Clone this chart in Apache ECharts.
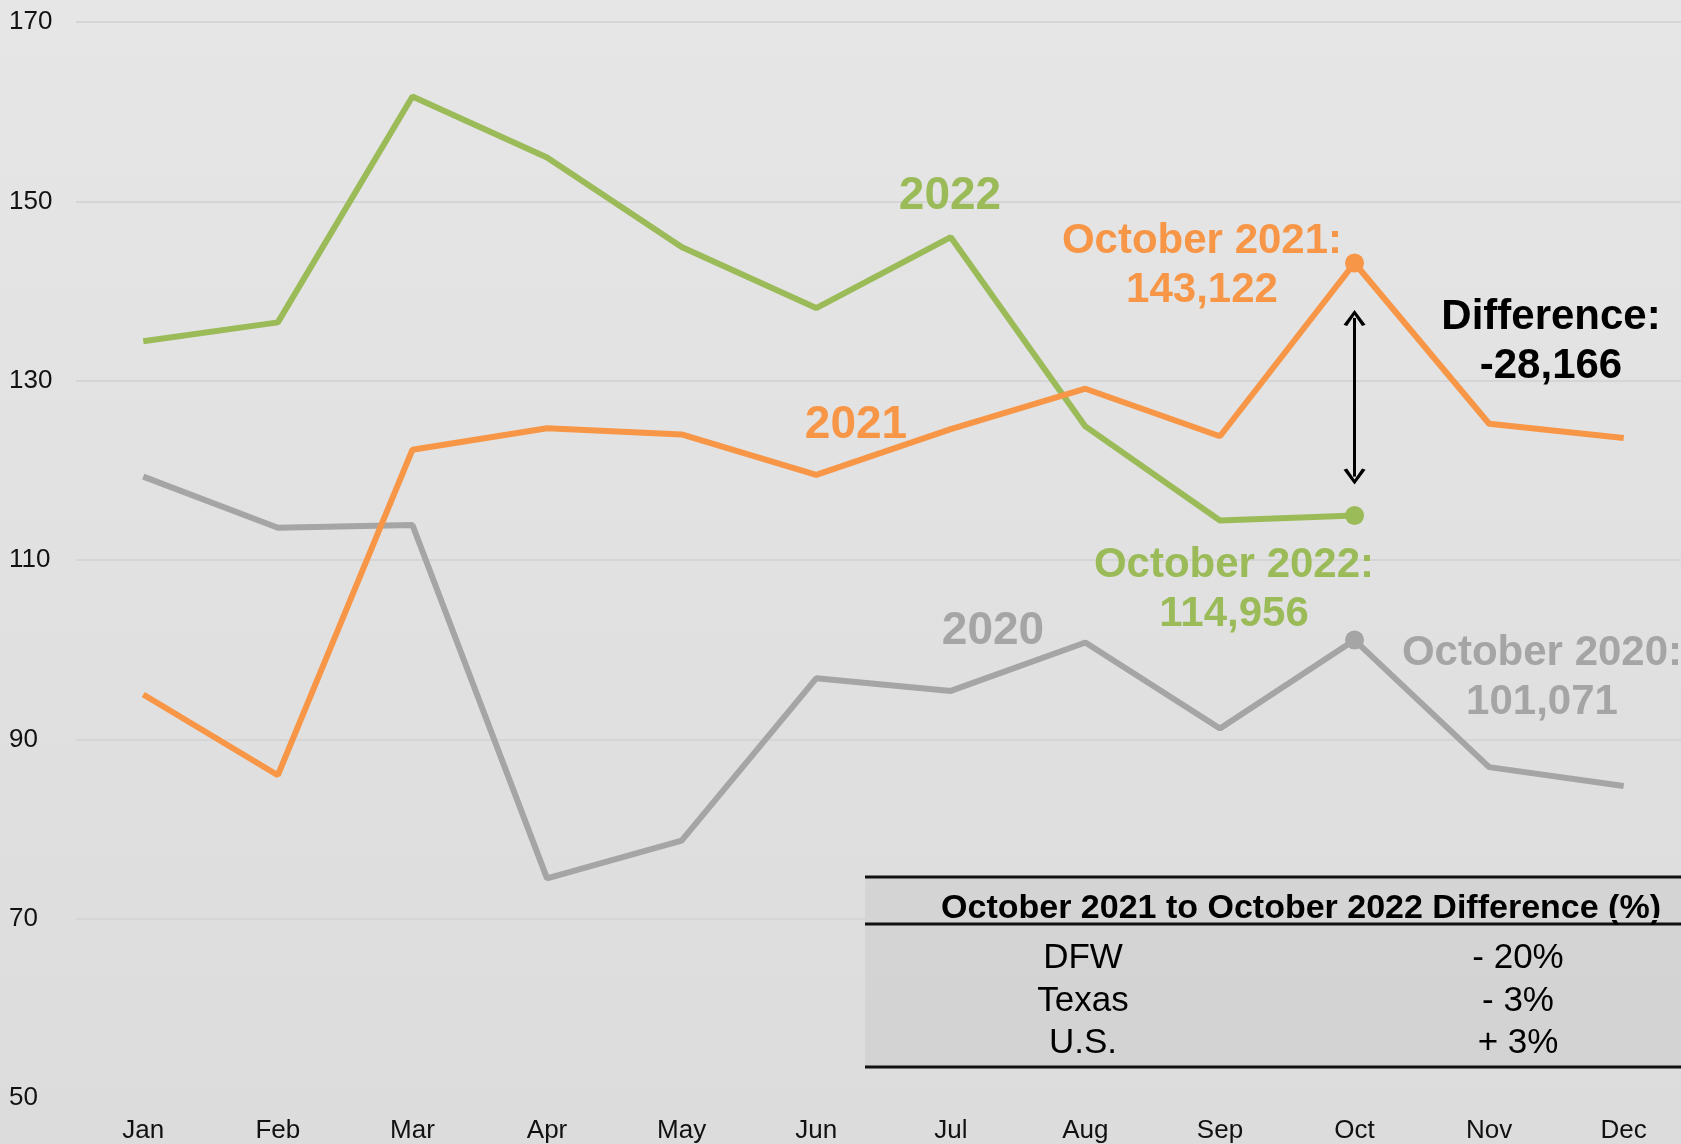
<!DOCTYPE html>
<html>
<head>
<meta charset="utf-8">
<script src="https://cdn.jsdelivr.net/npm/echarts@6/dist/echarts.min.js"></script>
<style>
  html, body { margin: 0; padding: 0; overflow: hidden; }
  #main { width: 1691px; height: 1144px; }
</style>
</head>
<body>
<div id="main"></div>
<script>
// months and yearly values (thousands)
const months = ["Jan", "Feb", "Mar", "Apr", "May", "Jun", "Jul", "Aug", "Sep", "Oct", "Nov", "Dec"];
const y2020 = [119.3, 113.6, 113.9, 74.5, 78.7, 96.8, 95.4, 100.8, 91.2, 101.071, 86.9, 84.8];
const y2021 = [95.0, 86.0, 122.3, 124.7, 124.0, 119.5, 124.6, 129.1, 123.8, 143.122, 125.2, 123.6];
const y2022 = [134.4, 136.5, 161.7, 154.9, 144.9, 138.1, 146.0, 124.9, 114.4, 114.956];
const yTicks = [50, 70, 90, 110, 130, 150, 170];

// difference table
const tableTitle = "October 2021 to October 2022 Difference (%)";
const tableRegions = ["DFW", "Texas", "U.S."];
const tableChanges = ["- 20%", "- 3%", "+ 3%"];

const GREEN = "#9BBB59";
const ORANGE = "#F79646";
const GRAY = "#A5A5A5";
const FONT = "'Liberation Sans', Arial, sans-serif";

// only October gets a dot
function octDot(v, p) {
  return p.dataIndex === 9 ? 19 : 0;
}

// open chevron arrow head
const chevron = "path://M0,10 L5,0 L10,10 L8.4,10.8 L5,3.4 L1.6,10.8 Z";

let tableGraphics = [
  { type: "rect", shape: { x: 865, y: 876, width: 830, height: 192 }, style: { fill: "rgba(0,0,0,0.045)" }, silent: true },
  { type: "line", shape: { x1: 865, y1: 877, x2: 1690, y2: 877 }, style: { stroke: "#111", lineWidth: 3 } },
  { type: "line", shape: { x1: 865, y1: 924, x2: 1690, y2: 924 }, style: { stroke: "#111", lineWidth: 3 } },
  { type: "line", shape: { x1: 865, y1: 1067, x2: 1690, y2: 1067 }, style: { stroke: "#111", lineWidth: 3 } },
  {
    type: "text", x: 1301, y: 909,
    style: { text: tableTitle, font: "bold 34px " + FONT, fill: "#000", textAlign: "center", textVerticalAlign: "middle" }
  }
];
const rowY = [958, 1001, 1043];
tableRegions.forEach((r, i) => {
  tableGraphics.push({
    type: "text", x: 1083, y: rowY[i],
    style: { text: r, font: "35px " + FONT, fill: "#000", textAlign: "center", textVerticalAlign: "middle" }
  });
  tableGraphics.push({
    type: "text", x: 1518, y: rowY[i],
    style: { text: tableChanges[i], font: "35px " + FONT, fill: "#000", textAlign: "center", textVerticalAlign: "middle" }
  });
});

function label(x, y, text, color, size) {
  return {
    type: "text", x: x, y: y, z: 10,
    style: {
      text: text, font: "bold " + size + "px " + FONT, fill: color,
      textAlign: "center", textVerticalAlign: "middle", lineHeight: 49
    }
  };
}

let annotations = [
  label(950, 196, "2022", GREEN, 46),
  label(856, 425, "2021", ORANGE, 46),
  label(993, 631, "2020", GRAY, 46),
  label(1202, 266, "October 2021:\n143,122", ORANGE, 42),
  label(1234, 590, "October 2022:\n114,956", GREEN, 42),
  label(1542, 678, "October 2020:\n101,071", GRAY, 42),
  label(1551, 342, "Difference:\n-28,166", "#000", 42)
];

let myChart = echarts.init(document.getElementById("main"));
myChart.setOption({
  animation: false,
  backgroundColor: {
    type: "linear", x: 0, y: 0, x2: 0, y2: 1,
    colorStops: [
      { offset: 0, color: "#e7e6e6" },
      { offset: 1, color: "#dcdcdc" }
    ]
  },
  grid: { left: 76, right: 0, top: 22, bottom: 45 },
  xAxis: {
    type: "category",
    data: months,
    axisLine: { show: false },
    axisTick: { show: false },
    axisLabel: { color: "#111", fontSize: 26, fontFamily: FONT, margin: 20 }
  },
  yAxis: {
    type: "value",
    min: 50,
    max: 170,
    interval: 20,
    axisLine: { show: false },
    axisTick: { show: false },
    axisLabel: {
      color: "#111", fontSize: 26, fontFamily: FONT, align: "left", margin: 67,
      formatter: v => (yTicks.indexOf(v) >= 0 ? String(v) : "")
    },
    splitLine: { showMinLine: false, lineStyle: { color: "#d5d5d5", width: 2 } }
  },
  series: [
    {
      name: "2020", type: "line", data: y2020, symbol: "circle", symbolSize: octDot,
      lineStyle: { color: GRAY, width: 6 }, itemStyle: { color: GRAY }, z: 2
    },
    {
      name: "2022", type: "line", data: y2022, symbol: "circle", symbolSize: octDot,
      lineStyle: { color: GREEN, width: 6 }, itemStyle: { color: GREEN }, z: 3
    },
    {
      name: "2021", type: "line", data: y2021, symbol: "circle", symbolSize: octDot,
      lineStyle: { color: ORANGE, width: 6 }, itemStyle: { color: ORANGE }, z: 4,
      markLine: {
        silent: true,
        symbol: [chevron, chevron],
        symbolSize: [22, 16],
        label: { show: false },
        lineStyle: { color: "#000", width: 3, type: "solid" },
        data: [[{ coord: ["Oct", 137.0] }, { coord: ["Oct", 119.3] }]]
      }
    }
  ],
  graphic: tableGraphics.concat(annotations)
});
</script>
</body>
</html>
